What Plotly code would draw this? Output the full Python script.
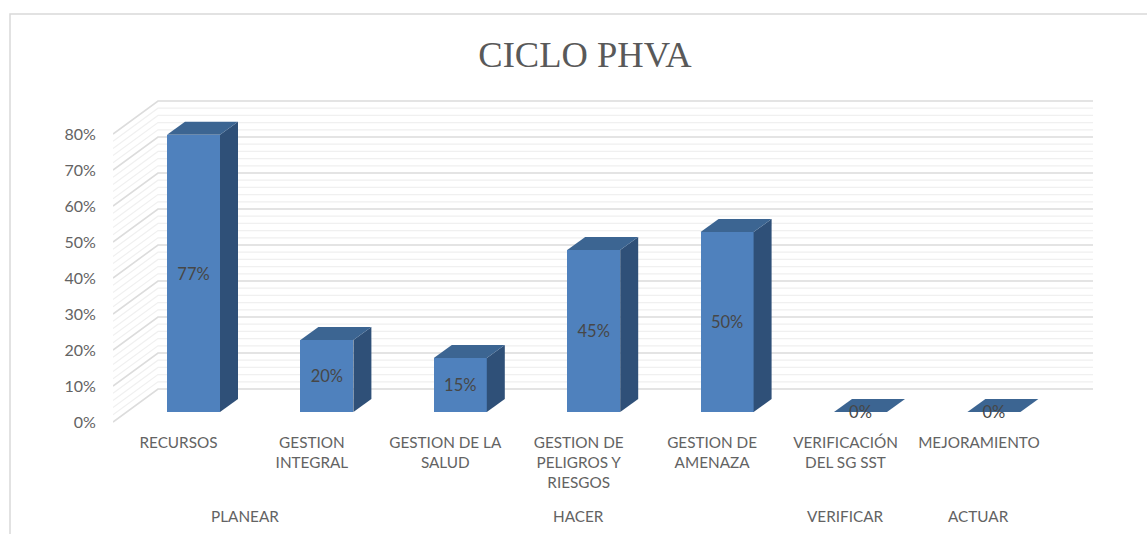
import plotly.graph_objects as go

# ---- data ----
categories = ["RECURSOS", "GESTION<br>INTEGRAL", "GESTION DE LA<br>SALUD",
              "GESTION DE<br>PELIGROS Y<br>RIESGOS", "GESTION DE<br>AMENAZA",
              "VERIFICACIÓN<br>DEL SG SST", "MEJORAMIENTO"]
values = [77, 20, 15, 45, 50, 0, 0]
groups = ["PLANEAR", "HACER", "VERIFICAR", "ACTUAR"]
group_spans = [(0, 1), (2, 4), (5, 5), (6, 6)]
y_ticks = [0, 10, 20, 30, 40, 50, 60, 70, 80]
y_minor = list(range(0, 81, 2))

# ---- pseudo-3D geometry (axis units) ----
W, H = 1147, 534
PX_X, PX_Y = 133.4, 3.6
X0, Y0 = 193.5, 412          # pixel of category 0 / value 0 in bar plane
L, R, T, B = 113, 1093, 95, 425
bar_w = 53 / PX_X
bar_dx, bar_dy = 18 / PX_X, 13 / PX_Y
wall_front_x, wall_back_x, wall_right_x = (113 - X0) / PX_X, (158 - X0) / PX_X, (1093 - X0) / PX_X
wall_front_dy, wall_back_dy = (412 - 422) / PX_Y, (412 - 389) / PX_Y
label_dx = -15 / PX_X
text_dy = -2 / PX_Y

FRONT, SIDE, TOP = "#4f81bd", "#2f5078", "#3c6592"
TXT = "#636363"
FONT = "Lato"

fig = go.Figure()

# chart frame: top and left edges are visible, the others fall outside the picture
fig.add_shape(type="rect", xref="paper", yref="paper", layer="below",
              x0=(10 - L) / (R - L), x1=(1175 - L) / (R - L),
              y0=(B - 570) / (B - T), y1=(B - 14) / (B - T),
              line=dict(color="#d9d9d9", width=1.5), fillcolor="white")

def wall(vals, color, width):
    path = ""
    for v in vals:
        path += (f"M{wall_front_x},{v + wall_front_dy} L{wall_back_x},{v + wall_back_dy} "
                 f"L{wall_right_x},{v + wall_back_dy} ")
    fig.add_shape(type="path", path=path, xref="x", yref="y", layer="below",
                  line=dict(color=color, width=width))

wall([v for v in y_minor if v not in y_ticks], "#f0f0f0", 1.2)
wall(y_ticks, "#dcdcdc", 1.6)

xpos = list(range(len(values)))
for i, v in zip(xpos, values):
    r = i + bar_w / 2
    l = i - bar_w / 2
    if v > 0:
        fig.add_trace(go.Scatter(x=[r, r + bar_dx, r + bar_dx, r, r], y=[0, bar_dy, v + bar_dy, v, 0],
                                 mode="lines", fill="toself", fillcolor=SIDE, line=dict(width=0),
                                 hoverinfo="skip", showlegend=False))
    fig.add_trace(go.Scatter(x=[l, l + bar_dx, r + bar_dx, r, l], y=[v, v + bar_dy, v + bar_dy, v, v],
                             mode="lines", fill="toself", fillcolor=TOP, line=dict(width=0),
                             hoverinfo="skip", showlegend=False))

fig.add_trace(go.Bar(x=xpos, y=values, width=bar_w, marker=dict(color=FRONT, line=dict(width=0)),
                     hoverinfo="skip", showlegend=False))
fig.add_trace(go.Scatter(x=xpos, y=[v / 2 + text_dy for v in values], mode="text",
                         text=[f"{v}%" for v in values],
                         textfont=dict(family=FONT, size=16.5, color="#474747"),
                         textposition="middle center", hoverinfo="skip", showlegend=False))

for name, (a, b) in zip(groups, group_spans):
    fig.add_annotation(x=(a + b) / 2 + label_dx, xref="x", y=(B - 516) / (B - T), yref="paper",
                       yanchor="middle", text=name, showarrow=False,
                       font=dict(family=FONT, size=15.3, color=TXT))

fig.update_layout(
    width=W, height=H, paper_bgcolor="white", plot_bgcolor="rgba(0,0,0,0)",
    margin=dict(l=L, r=W - R, t=T, b=H - B, pad=0), showlegend=False, bargap=0,
    title=dict(text="CICLO PHVA", x=585 / W, xanchor="center", y=1 - 54 / H, yanchor="middle",
               font=dict(family="Liberation Serif", size=36.5, color="#595959")),
    xaxis=dict(range=[(L - X0) / PX_X, (R - X0) / PX_X], tickmode="array",
               tickvals=[i + label_dx for i in xpos], ticktext=categories, tickangle=0,
               showgrid=False, zeroline=False, showline=False,
               ticks="outside", ticklen=4, tickcolor="rgba(0,0,0,0)",
               tickfont=dict(family=FONT, size=15.3, color=TXT)),
    yaxis=dict(range=[(Y0 - B) / PX_Y, (Y0 - T) / PX_Y], tickmode="array",
               tickvals=[v + wall_front_dy for v in y_ticks], ticktext=[f"{v}%" for v in y_ticks],
               showgrid=False, zeroline=False, showline=False,
               ticks="outside", ticklen=13, tickcolor="rgba(0,0,0,0)",
               tickfont=dict(family=FONT, size=16, color=TXT)),
)

fig.write_html("out.html", config={"displayModeBar": False},
               post_script="document.body.style.margin='0';document.body.style.overflow='hidden';")
